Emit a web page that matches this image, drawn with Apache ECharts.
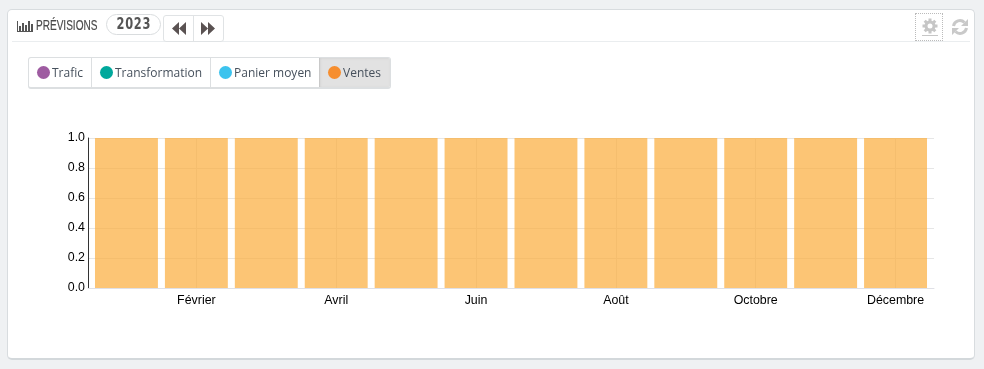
<!DOCTYPE html>
<html><head><meta charset="utf-8">
<script src="https://cdn.jsdelivr.net/npm/echarts@6/dist/echarts.min.js"></script>
<style>
html,body{margin:0;padding:0;width:984px;height:369px;overflow:hidden;background:#eff1f3;font-family:"Open Sans",sans-serif;color:#555}
#card{position:absolute;left:7px;top:9px;width:966px;height:348px;background:#fff;border:1px solid #d8dcdf;border-bottom:2px solid #d3d8db;border-radius:5px;box-sizing:content-box}
#hr{position:absolute;left:12px;top:41px;width:958px;height:1px;background:#eaedef}
#chart{position:absolute;left:0;top:0;width:984px;height:369px}
.abs{position:absolute;box-sizing:border-box}
#title{left:36px;top:16px;font:15px/18px "Liberation Sans",sans-serif;color:#4a4a4a;-webkit-text-stroke:.2px #4a4a4a;transform:scaleX(.67);transform-origin:0 0;white-space:nowrap}
#pill{left:106px;top:14px;width:55px;height:21px;border:1px solid #d9dcde;border-radius:11px;text-align:center;font:bold 15px/19px "DejaVu Sans",sans-serif;letter-spacing:1px;color:#555}
#pill span{display:inline-block;transform:scaleX(.76);transform-origin:50% 50%}
#nav{left:163px;top:15px;width:61px;height:27px;border:1px solid #e0e3e5;border-radius:3px;background:#fff}
#nav i{position:absolute;left:29px;top:0;width:1px;height:25px;background:#e0e3e5}
#legend{left:28px;top:57px;width:363px;height:32px;border:1px solid #dcdfe1;border-bottom:2px solid #dcdfe1;border-radius:3px;background:#fff;overflow:hidden}
.it{position:absolute;top:0;height:30px;font-size:12px;line-height:29px;color:#46505c;white-space:nowrap;border-right:1px solid #dcdfe1;box-sizing:border-box}
.it b{position:absolute;top:8px;left:8px;width:13px;height:13px;border-radius:50%}
.it span{position:absolute;left:23px;top:0}
</style></head>
<body>
<div id="card"></div><div id="hr"></div>
<div id="chart"></div>

<svg class="abs" style="left:16px;top:18px" width="18" height="16" viewBox="0 0 18 16">
<g fill="#555"><rect x="1" y="3" width="1" height="10"/><rect x="3" y="8" width="2" height="5"/><rect x="6" y="5" width="2" height="8"/><rect x="9" y="7" width="2" height="6"/><rect x="12" y="3" width="2" height="10"/><rect x="15" y="6" width="2" height="7"/><rect x="1" y="13" width="16" height="1"/></g></svg>
<div class="abs" id="title">PRÉVISIONS</div>
<div class="abs" id="pill"><span>2023</span></div>
<div class="abs" id="nav"><i></i>
<svg class="abs" style="left:8px;top:6px" width="14" height="13" viewBox="0 0 14 13"><path fill="#5a5252" d="M7 0v13L0 6.500zM14 0v13L7 6.500z"/></svg>
<svg class="abs" style="left:37px;top:6px" width="14" height="13" viewBox="0 0 14 13"><path fill="#5a5252" d="M0 0v13l7-6.500zM7 0v13l7-6.500z"/></svg>
</div>
<div class="abs" id="legend">
<div class="it" style="left:0;width:63px"><b style="background:#9e5ba1"></b><span>Trafic</span></div>
<div class="it" style="left:63px;width:119px"><b style="background:#00a89c;left:8px"></b><span>Transformation</span></div>
<div class="it" style="left:182px;width:109px"><b style="background:#3cc3ee"></b><span>Panier moyen</span></div>
<div class="it" style="left:290px;width:72px;background:#e2e2e2;border-right:0;border-left:1px solid #c9c9c9;box-shadow:inset 0 0 3px #ccc"><b style="background:#f68e2f"></b><span>Ventes</span></div>
</div>
<div class="abs" style="left:915px;top:13px;width:28px;height:28px;border:1px dotted #bbb"></div>
<svg class="abs" style="left:922px;top:18px" width="16" height="18" viewBox="0 0 16 18">
<g fill="#c6c6c6"><circle cx="8" cy="8" r="5.500"/><g stroke="#c6c6c6" stroke-width="3"><path d="M8 0.500v15M0.500 8h15M2.700 2.700l10.600 10.600M13.300 2.700L2.700 13.300"/></g></g><circle cx="8" cy="8" r="2.500" fill="#fff"/><rect y="17" width="16" height="1" fill="#c6c6c6"/></svg>
<svg class="abs" style="left:951px;top:18px" width="18" height="18" viewBox="0 0 18 18">
<g fill="none" stroke="#c9c9c9" stroke-width="3"><path d="M2.500 8a6.500 6.500 0 0 1 11-3.500"/><path d="M15.500 10a6.500 6.500 0 0 1-11 3.500"/></g>
<path fill="#c9c9c9" d="M17 1v7h-7zM1 17v-7h7z"/></svg>

<script>
const categories = ["Janvier","Février","Mars","Avril","Mai","Juin","Juillet","Août","Septembre","Octobre","Novembre","Décembre"];
const ventes = [1,1,1,1,1,1,1,1,1,1,1,1];
const yTicks = [0,0.2,0.4,0.6,0.8,1];
const chart = echarts.init(document.getElementById('chart'), null, {renderer:'canvas'});
const odd = i => i % 2 === 1;
chart.setOption({
  backgroundColor:'transparent',
  animation:false,
  textStyle:{fontFamily:'"Liberation Sans",Arial,sans-serif'},
  grid:[
    {left:88, width:846, top:138, height:150, containLabel:false},
    {left:91.5, width:839, top:138, height:150, containLabel:false}
  ],
  xAxis:[
    {gridIndex:0, type:'value', min:0, max:1, show:true,
     axisLine:{show:true, onZero:false, lineStyle:{color:'#dfe0e6',width:1}},
     axisTick:{show:false}, axisLabel:{show:false}, splitLine:{show:false}},
    {gridIndex:1, type:'category', data:categories, boundaryGap:true,
     axisLine:{show:false}, axisTick:{show:false},
     axisLabel:{show:true, interval:odd, color:'#000', fontSize:12.4, margin:6, padding:[1,0,0,0], hideOverlap:false},
     splitLine:{show:true, interval:odd, alignWithLabel:true, lineStyle:{color:'#e8e8e8',width:1}}}
  ],
  yAxis:[
    {gridIndex:0, type:'value', min:0, max:1, interval:0.2,
     axisLine:{show:true, onZero:false, lineStyle:{color:'#333',width:1}},
     axisTick:{show:false},
     axisLabel:{color:'#000', fontSize:12.4, margin:3, padding:[4,0,0,0], formatter:v=>yTicks.includes(+v.toFixed(1))?v.toFixed(1):''},
     splitLine:{show:true, lineStyle:{color:'#e6e6e6',width:1}}},
    {gridIndex:1, type:'value', min:0, max:1, interval:0.2, show:false, splitLine:{show:false}}
  ],
  series:[{
    type:'bar', xAxisIndex:1, yAxisIndex:1, data:ventes, barCategoryGap:'10%',
    itemStyle:{color:'rgba(251,173,58,0.7)'}, silent:true
  }]
});
</script>
</body></html>
